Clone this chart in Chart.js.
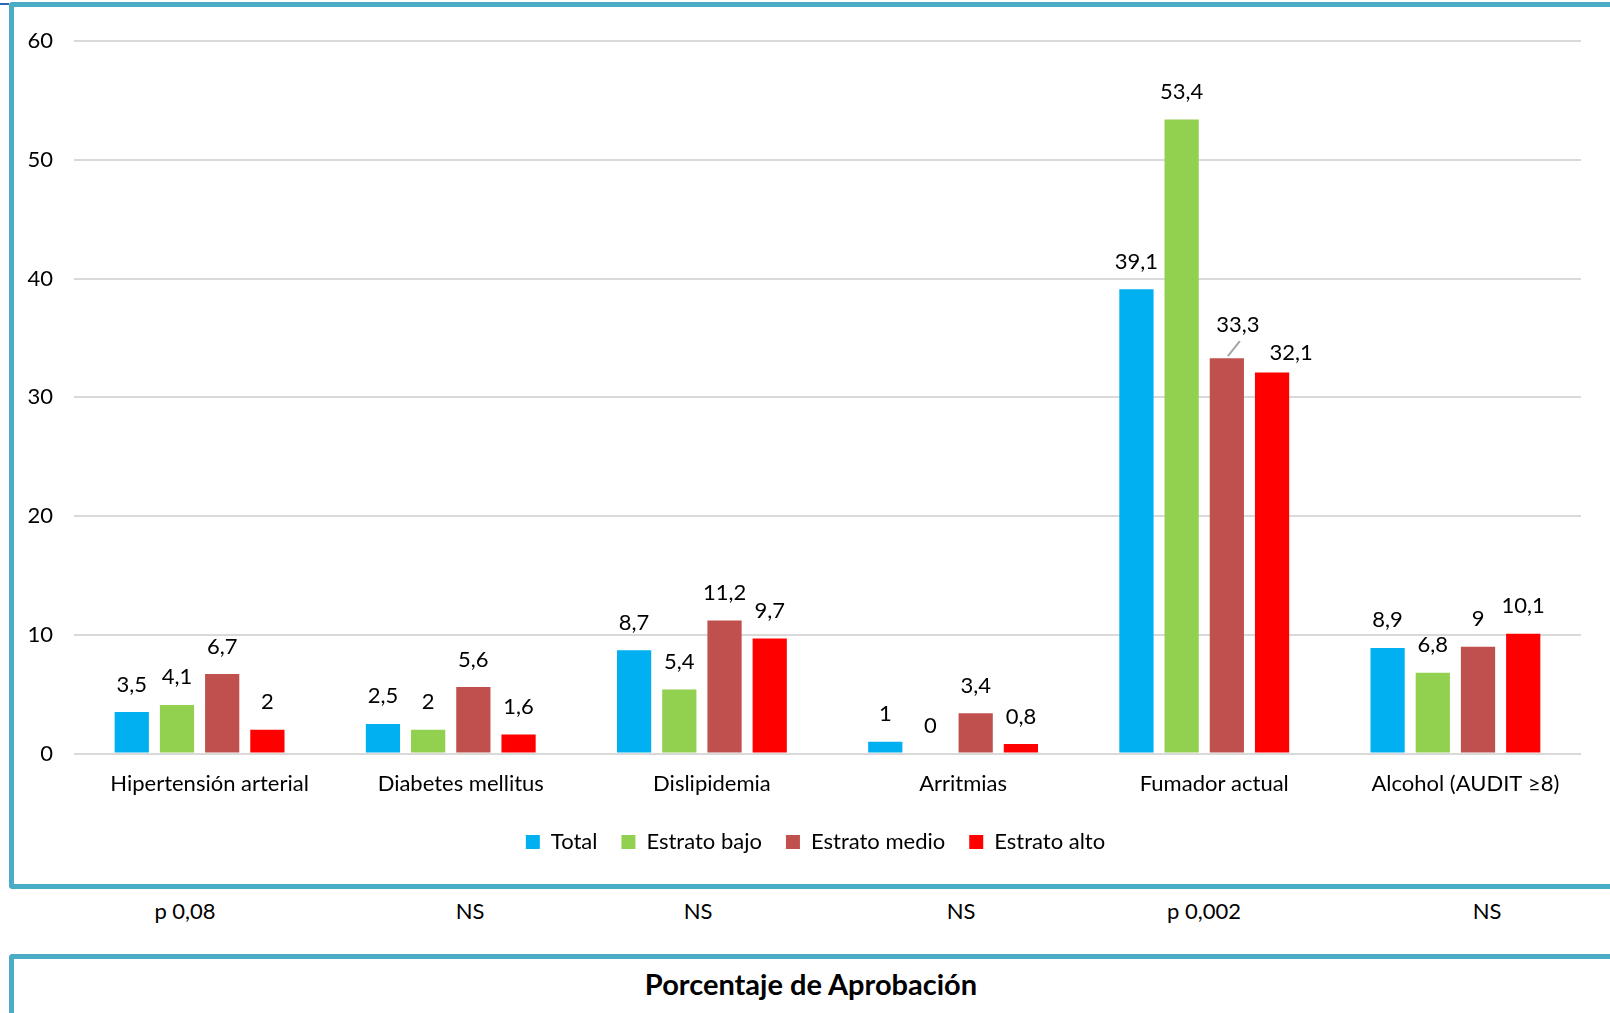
<!DOCTYPE html>
<html lang="es">
<head>
<meta charset="UTF-8">
<title>Factores de riesgo por estrato</title>
<script src="https://cdn.jsdelivr.net/npm/chart.js@4.4.1/dist/chart.umd.min.js"></script>
<style>
  body { margin: 0; width: 1610px; height: 1013px; overflow: hidden; background: #fff; position: relative; font-family: Lato, sans-serif; color: #000; }
  #corner { position: absolute; left: 0; top: 3px; width: 9px; height: 2px; background: #2e64b0; }
  #chartBox { position: absolute; left: 9px; top: 2px; width: 1610px; height: 877px; border: 5px solid #4bacc6; border-right: none; border-radius: 4px 0 0 4px; }
  #chart { position: absolute; left: 0; top: 0; }
  .pval { position: absolute; top: 898px; font-size: 22px; line-height: 26px; transform: translateX(-50%); white-space: nowrap; }
  #titleBox { position: absolute; left: 9px; top: 954px; width: 1610px; height: 80px; border: 5px solid #4bacc6; border-right: none; border-bottom: none; border-radius: 4px 0 0 0; }
  #title { position: absolute; left: 811px; top: 967px; font-size: 29px; line-height: 34px; font-weight: bold; transform: translateX(-50%); white-space: nowrap; }
</style>
</head>
<body>
<div id="corner"></div>
<div id="chartBox"><canvas id="chart" width="1596" height="877"></canvas></div>
<div id="pRow"></div>
<div id="titleBox"></div>
<div id="title"></div>

<script>
// data
var categories = ['Hipertensión arterial', 'Diabetes mellitus', 'Dislipidemia', 'Arritmias', 'Fumador actual', 'Alcohol (AUDIT ≥8)'];
var seriesNames = ['Total', 'Estrato bajo', 'Estrato medio', 'Estrato alto'];
var totalValues = [3.5, 2.5, 8.7, 1, 39.1, 8.9];
var bajoValues = [4.1, 2, 5.4, 0, 53.4, 6.8];
var medioValues = [6.7, 5.6, 11.2, 3.4, 33.3, 9];
var altoValues = [2, 1.6, 9.7, 0.8, 32.1, 10.1];
var yTicks = [0, 10, 20, 30, 40, 50, 60];
var pValues = ['p 0,08', 'NS', 'NS', 'NS', 'p 0,002', 'NS'];
var chartTitle = 'Porcentaje de Aprobación';

var colors = ['#00b0f0', '#92d050', '#c0504d', '#ff0000'];
var pCenters = [185, 470, 698, 961, 1204, 1487]; // page x of each p-value cell

var pRow = document.getElementById('pRow');
pValues.forEach(function (txt, i) {
    var d = document.createElement('div');
    d.className = 'pval';
    d.style.left = pCenters[i] + 'px';
    d.textContent = txt;
    pRow.appendChild(d);
});
document.getElementById('title').textContent = chartTitle;

// value labels above bars, decimal comma
var valueLabels = {
    id: 'valueLabels',
    afterDatasetsDraw: function (chart, args, opts) {
        var ctx = chart.ctx;
        ctx.save();
        ctx.font = '22px Lato';
        ctx.fillStyle = '#000';
        ctx.textAlign = 'center';
        ctx.textBaseline = 'alphabetic';
        chart.data.datasets.forEach(function (ds, di) {
            chart.getDatasetMeta(di).data.forEach(function (bar, i) {
                var x = bar.x;
                var y = bar.y - opts.gap;
                var shift = opts.shifts.find(function (s) { return s.dataset === di && s.index === i; });
                if (shift) {
                    if (shift.leader) {
                        ctx.strokeStyle = '#a6a6a6';
                        ctx.lineWidth = 2;
                        ctx.beginPath();
                        ctx.moveTo(bar.x + 1, bar.y - 2);
                        ctx.lineTo(bar.x + 13, bar.y - 17);
                        ctx.stroke();
                    }
                    x += shift.dx;
                    y += shift.dy;
                }
                ctx.fillText(String(ds.data[i]).replace('.', ','), x, y);
            });
        });
        ctx.restore();
    }
};

// move the legend to where it sits in the slide
var legendShift = {
    id: 'legendShift',
    afterLayout: function (chart, args, opts) {
        chart.legend.left += opts.dx;
        chart.legend.right += opts.dx;
        chart.legend.top += opts.dy;
        chart.legend.bottom += opts.dy;
    }
};

var valueSets = [totalValues, bajoValues, medioValues, altoValues];

function drawChart() {
    var ctx = document.getElementById('chart').getContext('2d');
    new Chart(ctx, {
        type: 'bar',
        data: {
            labels: categories,
            datasets: seriesNames.map(function (name, i) {
                return {
                    label: name,
                    data: valueSets[i],
                    backgroundColor: colors[i],
                    borderWidth: 0,
                    categoryPercentage: 0.72,
                    barPercentage: 0.757
                };
            })
        },
        options: {
            responsive: false,
            animation: false,
            events: [],
            layout: { padding: { left: 0, right: 29, top: 20, bottom: 22 } },
            scales: {
                x: {
                    grid: { display: false },
                    border: { display: false },
                    ticks: {
                        color: '#000',
                        font: { family: 'Lato', size: 22 },
                        padding: 9,
                        labelOffset: 10,
                        autoSkip: false,
                        maxRotation: 0
                    }
                },
                y: {
                    min: yTicks[0],
                    max: yTicks[yTicks.length - 1],
                    grid: { color: '#d9d9d9', lineWidth: 2, drawTicks: false },
                    border: { display: false },
                    ticks: {
                        stepSize: yTicks[1] - yTicks[0],
                        color: '#000',
                        font: { family: 'Lato', size: 22 },
                        padding: 21
                    },
                    afterFit: function (s) { s.width = 60; }
                }
            },
            plugins: {
                legend: {
                    position: 'bottom',
                    labels: {
                        boxWidth: 14,
                        boxHeight: 14,
                        padding: 24,
                        color: '#000',
                        font: { family: 'Lato', size: 22 }
                    }
                },
                tooltip: { enabled: false },
                valueLabels: {
                    gap: 20.5,
                    shifts: [
                        { dataset: 2, index: 4, dx: 11, dy: -5.5, leader: true },
                        { dataset: 3, index: 4, dx: 19, dy: 8.5 }
                    ]
                },
                legendShift: { dx: 18, dy: 1 }
            }
        },
        plugins: [valueLabels, legendShift]
    });
}

document.fonts.load('22px Lato').then(drawChart, drawChart);
</script>
</body>
</html>
